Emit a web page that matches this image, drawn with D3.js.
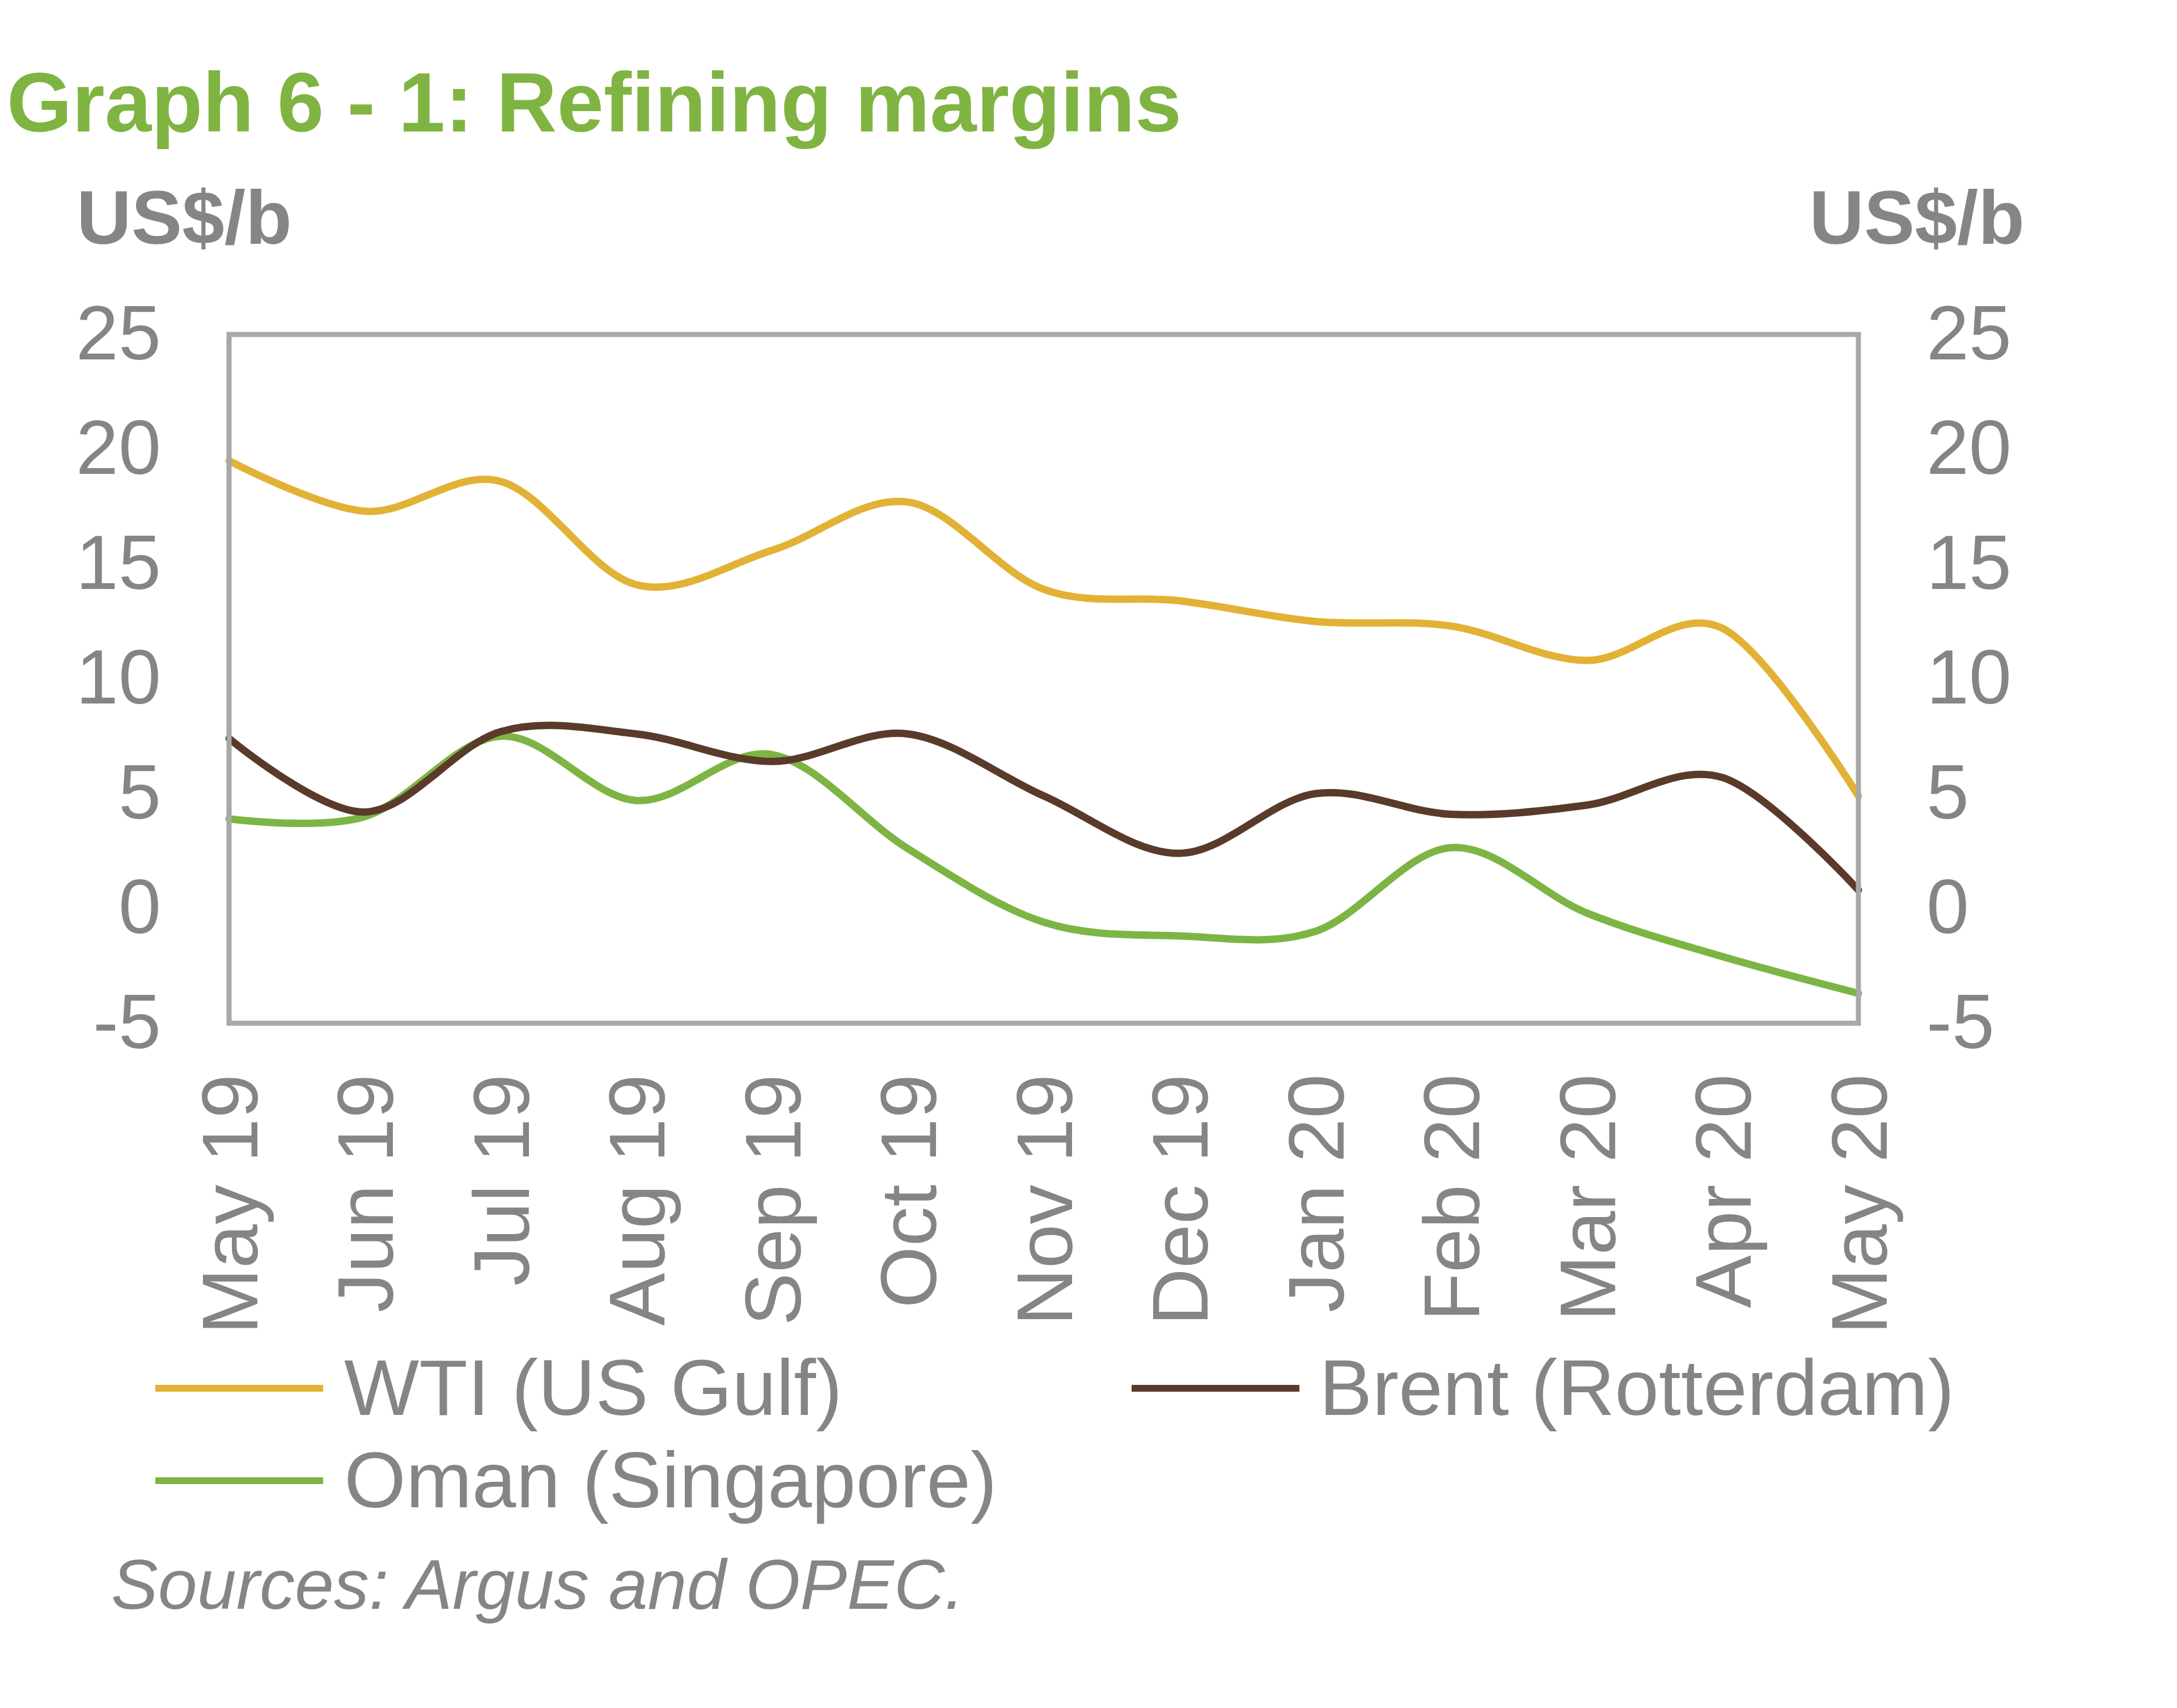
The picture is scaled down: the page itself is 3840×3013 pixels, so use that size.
<!DOCTYPE html>
<html>
<head>
<meta charset="utf-8">
<script src="https://cdn.jsdelivr.net/npm/d3@7"></script>
<style>
  html, body { margin: 0; padding: 0; background: #ffffff; }
  svg { display: block; }
  text { font-family: "Liberation Sans", Arial, sans-serif; }
</style>
</head>
<body>
<svg id="chart" width="3840" height="3013"></svg>
<script>
// ---- data ----
const categories = ["May 19","Jun 19","Jul 19","Aug 19","Sep 19","Oct 19","Nov 19","Dec 19","Jan 20","Feb 20","Mar 20","Apr 20","May 20"];
const wti   = [19.5, 17.3, 18.6, 14.1, 15.6, 17.7, 13.9, 13.4, 12.5, 12.3, 10.8, 12.2, 4.9];
const brent = [7.4, 4.2, 7.7, 7.6, 6.4, 7.6, 4.9, 2.4, 5.0, 4.1, 4.5, 5.7, 0.8];
const oman  = [3.9, 4.0, 7.5, 4.7, 6.7, 2.6, -0.6, -1.2, -1.0, 2.65, -0.2, -2.1, -3.7];
const yTicks = [-5, 0, 5, 10, 15, 20, 25];
const seriesNames = ["WTI (US Gulf)", "Brent (Rotterdam)", "Oman (Singapore)"];
const title = "Graph 6 - 1: Refining margins";
const unitLabel = "US$/b";
const sourceNote = "Sources: Argus and OPEC.";

// ---- layout ----
const svg = d3.select("#chart");
const plot = { left: 404, right: 3278, top: 590, bottom: 1805 };
const colors = { wti: "#e2b236", brent: "#5a3a2a", oman: "#7db544" };
const grey = "#858585";

const x = d3.scalePoint().domain(categories).range([plot.left, plot.right]);
const y = d3.scaleLinear().domain([-5, 25]).range([plot.bottom, plot.top]);

// title
svg.append("text")
  .attr("x", 12).attr("y", 232)
  .attr("font-size", 148).attr("font-weight", "bold")
  .attr("fill", "#80b442")
  .text(title);

// unit labels
svg.append("text").attr("x", 135).attr("y", 430)
  .attr("font-size", 134).attr("font-weight", "bold").attr("fill", grey)
  .text(unitLabel);
svg.append("text").attr("x", 3571).attr("y", 430).attr("text-anchor", "end")
  .attr("font-size", 134).attr("font-weight", "bold").attr("fill", grey)
  .text(unitLabel);

// lines
const line = d3.line()
  .x((d, i) => x(categories[i]))
  .y(d => y(d))
  .curve(d3.curveCardinal.tension(0));

const series = [
  { key: "wti", values: wti },
  { key: "brent", values: brent },
  { key: "oman", values: oman }
];

// draw order: oman under brent, wti on top
[series[2], series[1], series[0]].forEach(s => {
  svg.append("path")
    .datum(s.values)
    .attr("d", line)
    .attr("fill", "none")
    .attr("stroke", colors[s.key])
    .attr("stroke-width", 13)
    .attr("stroke-linejoin", "round")
    .attr("stroke-linecap", "round");
});

// frame
svg.append("rect")
  .attr("x", plot.left).attr("y", plot.top)
  .attr("width", plot.right - plot.left).attr("height", plot.bottom - plot.top)
  .attr("fill", "none").attr("stroke", "#a8a8a8").attr("stroke-width", 9);

const fmt = d => String(d);

// left axis
const leftAxis = svg.append("g")
  .attr("transform", `translate(${plot.left},0)`)
  .call(d3.axisLeft(y).tickValues(yTicks).tickFormat(fmt).tickSize(0).tickPadding(120));
leftAxis.select(".domain").remove();
leftAxis.selectAll("text")
  .attr("font-size", 135).attr("fill", grey)
  .attr("font-family", "Liberation Sans, Arial, sans-serif");

// right axis
const rightAxis = svg.append("g")
  .attr("transform", `translate(${plot.right},0)`)
  .call(d3.axisRight(y).tickValues(yTicks).tickFormat(fmt).tickSize(0).tickPadding(120));
rightAxis.select(".domain").remove();
rightAxis.selectAll("text")
  .attr("font-size", 135).attr("fill", grey)
  .attr("font-family", "Liberation Sans, Arial, sans-serif");

// x axis labels (rotated)
const xAxis = svg.append("g")
  .attr("transform", `translate(0,${plot.bottom})`)
  .call(d3.axisBottom(x).tickSize(0).tickPadding(0));
xAxis.select(".domain").remove();
xAxis.selectAll("text")
  .attr("font-size", 140).attr("fill", grey)
  .attr("font-family", "Liberation Sans, Arial, sans-serif")
  .attr("text-anchor", "end")
  .attr("x", 0).attr("y", 0)
  .attr("dy", "0.35em")
  .attr("transform", "translate(0,90) rotate(-90)");

// legend
const legend = [
  { name: seriesNames[0], color: colors.wti, lx: 274, ly: 2449, tx: 607, ty: 2496 },
  { name: seriesNames[1], color: colors.brent, lx: 1996, ly: 2449, tx: 2327, ty: 2496 },
  { name: seriesNames[2], color: colors.oman, lx: 274, ly: 2612, tx: 607, ty: 2659 }
];
legend.forEach(l => {
  svg.append("line")
    .attr("x1", l.lx).attr("x2", l.lx + 296)
    .attr("y1", l.ly).attr("y2", l.ly)
    .attr("stroke", l.color).attr("stroke-width", 12);
  svg.append("text")
    .attr("x", l.tx).attr("y", l.ty)
    .attr("font-size", 140).attr("fill", grey)
    .text(l.name);
});

// source note
svg.append("text")
  .attr("x", 196).attr("y", 2838)
  .attr("font-size", 124).attr("font-style", "italic").attr("fill", grey)
  .text(sourceNote);
</script>
</body>
</html>
